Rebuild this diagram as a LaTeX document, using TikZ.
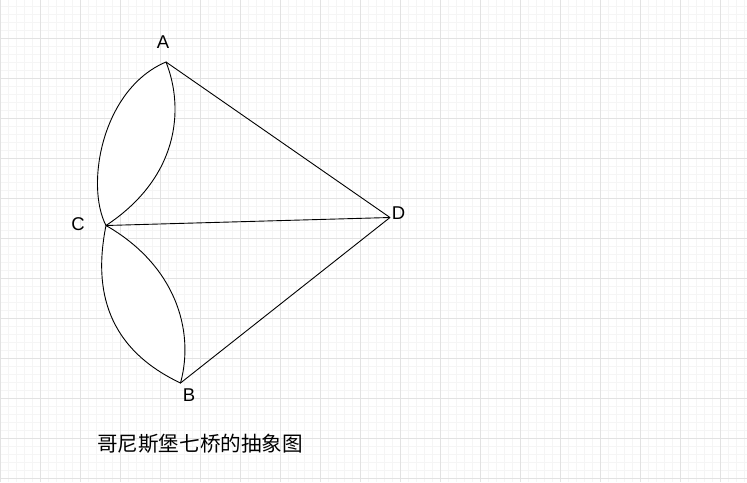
\documentclass[tikz,border=0pt]{standalone}
\usepackage{fontspec}
\setmainfont{Liberation Sans}
\newfontfamily\cjk{Noto Sans CJK SC}
\definecolor{gridmajor}{HTML}{E2E2E2}
\definecolor{gridminor}{HTML}{F5F5F5}
\begin{document}
\begin{tikzpicture}[x=1pt,y=-1pt,
  edge/.style={draw=black,line width=0.9pt,line join=miter},
  lens/.style={draw=black,fill=white,line width=0.9pt},
  vlabel/.style={font=\fontsize{18.5}{19}\selectfont,inner sep=0pt,anchor=center},
  caption/.style={font=\cjk\fontsize{20.6}{22}\selectfont,inner sep=0pt,anchor=center}]
\useasboundingbox (0,0) rectangle (747,482);
\fill[white] (0,0) rectangle (747,482);
% grid
\foreach \x in {0,8,...,747} \draw[gridminor,line width=0.6pt] (\x,0) -- (\x,482);
\foreach \y in {6,14,...,482} \draw[gridminor,line width=0.6pt] (0,\y) -- (747,\y);
\foreach \x in {0,40,...,747} \draw[gridmajor,line width=0.8pt] (\x,0) -- (\x,482);
\foreach \y in {38,78,...,482} \draw[gridmajor,line width=0.8pt] (0,\y) -- (747,\y);
% vertices
\coordinate (A) at (166,62);
\coordinate (C) at (106,225.5);
\coordinate (B) at (180.5,383);
\coordinate (D) at (390,217.5);
% lenses (bridges A-C and C-B)
\path[lens] (A) .. controls (102,89) and (85,185) .. (C)
  .. controls (178,178) and (185,110) .. (A) -- cycle;
\path[lens] (C) .. controls (95,280) and (100,345) .. (B)
  .. controls (195,330) and (175,265) .. (C) -- cycle;
% straight bridges
\draw[edge] (A) -- (D);
\draw[edge] (C) -- (D);
\draw[edge] (B) -- (D);
% labels
\node[vlabel] (lA) at (163,42.5) {A};
\node[vlabel] (lC) at (78,224) {C};
\node[vlabel] (lB) at (189,395) {B};
\node[vlabel] (lD) at (398.5,213.5) {D};
\node[caption] (cap) at (200,443.5) {哥尼斯堡七桥的抽象图};
\end{tikzpicture}
\end{document}
